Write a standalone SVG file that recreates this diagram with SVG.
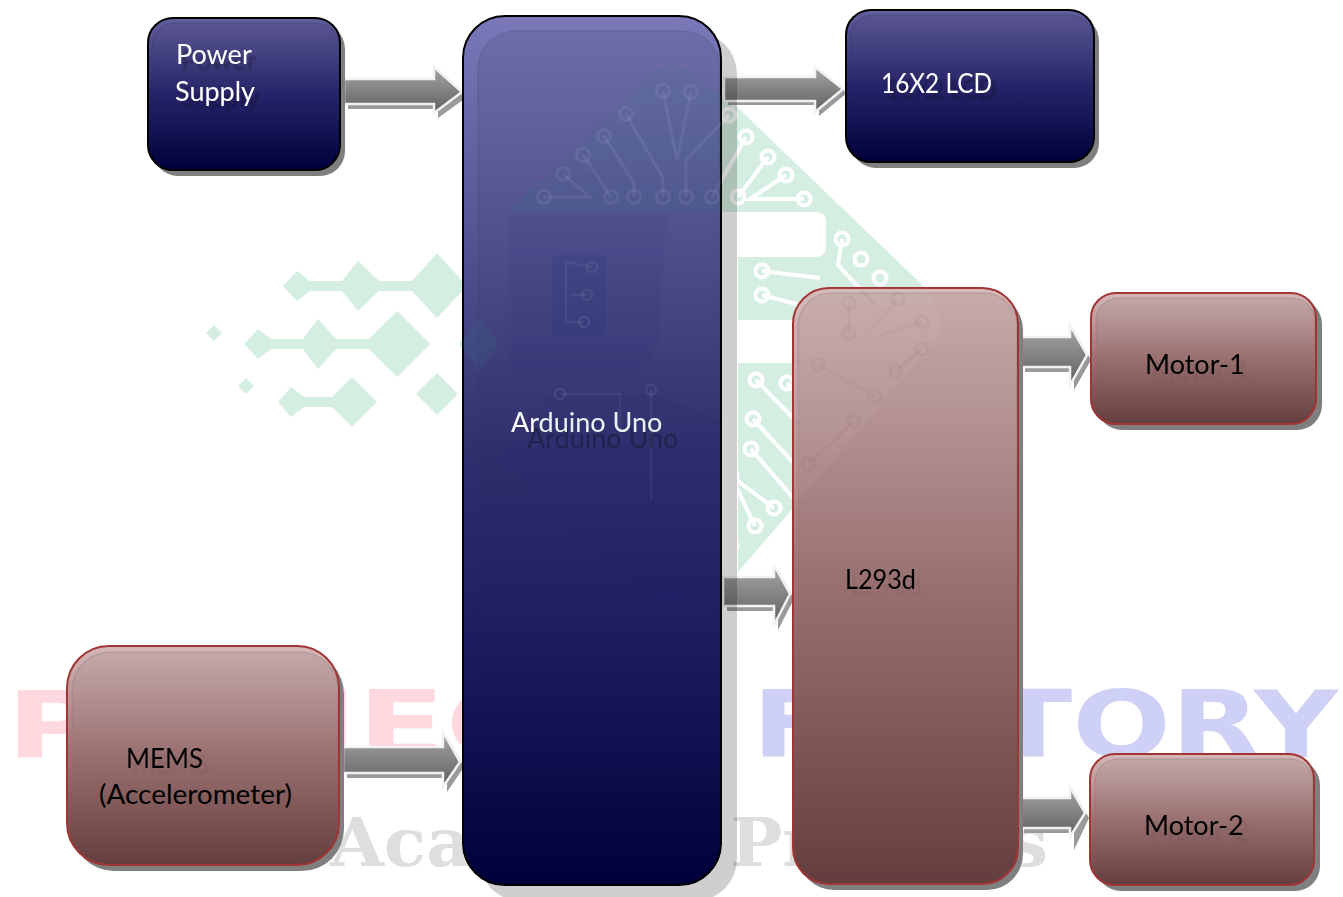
<svg xmlns="http://www.w3.org/2000/svg" xmlns:xlink="http://www.w3.org/1999/xlink" width="1343" height="897" viewBox="0 0 1343 897">
<style>
text{font-family:"Lato","Noto Sans",sans-serif;font-size:27px}
.w{fill:#fff}.k{fill:#000}
.wmm{font-family:"DejaVu Sans",sans-serif;font-weight:bold;font-size:93px}
.wmg{font-family:"DejaVu Serif",serif;font-weight:bold;font-size:68px;fill:#dedede}
.sb{fill:#7f7f7f}
.bluen{fill:url(#gBlue);stroke:#000;stroke-width:2}
.blues{fill:url(#gBlueS);stroke:#000;stroke-width:2}
.redn{fill:url(#gRed);stroke:#a13535;stroke-width:2}
.bev{fill:url(#gBev);stroke:url(#gBevS);stroke-width:1.5}
.ar{fill:url(#gArrow);stroke:#f2f2f2;stroke-width:2.5;stroke-linejoin:miter}
.ars{fill:#9a9a9a}
.dia{fill:#d5eee2}
</style>
<defs>
<linearGradient id="gBlue" x1="0" y1="0" x2="0" y2="1"><stop offset="0" stop-color="#7a78b8"/><stop offset=".5" stop-color="#30306f"/><stop offset=".72" stop-color="#1d1c60"/><stop offset="1" stop-color="#00003b"/></linearGradient>
<linearGradient id="gBlueS" x1="0" y1="0" x2="0" y2="1"><stop offset="0" stop-color="#625f9f"/><stop offset=".5" stop-color="#27256b"/><stop offset="1" stop-color="#00003b"/></linearGradient>
<linearGradient id="gRed" x1="0" y1="0" x2="0" y2="1"><stop offset="0" stop-color="#d6b8b8"/><stop offset=".5" stop-color="#9c7272"/><stop offset="1" stop-color="#643e3e"/></linearGradient>
<linearGradient id="gBev" x1="0" y1="0" x2="0" y2="1"><stop offset="0" stop-color="#000" stop-opacity=".07"/><stop offset=".5" stop-color="#000" stop-opacity=".02"/><stop offset="1" stop-color="#000" stop-opacity="0"/></linearGradient>
<linearGradient id="gBevS" x1="0" y1="0" x2="0" y2="1"><stop offset="0" stop-color="#000" stop-opacity=".1"/><stop offset=".5" stop-color="#000" stop-opacity=".02"/><stop offset="1" stop-color="#000" stop-opacity="0"/></linearGradient>
<linearGradient id="gArrow" x1="0" y1="0" x2="0" y2="1"><stop offset="0" stop-color="#a6a6a6"/><stop offset="1" stop-color="#5f5f5f"/></linearGradient>
<filter id="ts5" x="-10%" y="-30%" width="130%" height="170%"><feDropShadow dx="5" dy="6" stdDeviation=".8" flood-color="#000" flood-opacity=".28"/></filter>
<filter id="tf" x="-10%" y="-30%" width="130%" height="170%"><feDropShadow dx="6" dy="6" stdDeviation="1" flood-color="#000" flood-opacity=".07"/></filter>
<filter id="ts16" x="-10%" y="-30%" width="130%" height="200%"><feDropShadow dx="16" dy="16" stdDeviation=".6" flood-color="#000" flood-opacity=".3"/></filter>
<clipPath id="overA"><rect x="463" y="16" width="258" height="869" rx="42"/></clipPath>
<clipPath id="overL"><rect x="793" y="288" width="225" height="596" rx="36"/></clipPath>
<g id="logoShape">
<path d="M507 212L655 72Q672 56 695 75L738 110V212Z"/>
<path d="M735 105L915 278Q952 312 935 340L800 500L738 572V363H800V320H738V257H815Q826 257 826 245V222Q826 212 815 212H738Z"/>
</g>
<g id="logoTraces">
<path d="M544 197H590L563 174M583 155L611 197M604 136L634 183V197M626 114L663 178V197M663 91L677 160L691 92M686 197V160L729 115M712 197L746 137M738 197L768 157M804 199H750L786 175M842 239L838 265L875 305M762 271L820 278M762 295L800 305M756 380L800 425M787 383L830 430M753 419L800 470M751 449L795 500M731 476L774 508M731 476L755 526M731 500V546"/>
<circle cx="544" cy="197" r="6.5"/><circle cx="611" cy="197" r="6.5"/><circle cx="634" cy="197" r="6.5"/><circle cx="663" cy="197" r="6.5"/><circle cx="686" cy="197" r="6.5"/><circle cx="712" cy="197" r="6.5"/><circle cx="738" cy="197" r="6.5"/><circle cx="804" cy="199" r="6.5"/><circle cx="563" cy="174" r="6.5"/><circle cx="583" cy="155" r="6.5"/><circle cx="604" cy="136" r="6.5"/><circle cx="626" cy="114" r="6.5"/><circle cx="663" cy="91" r="6.5"/><circle cx="691" cy="92" r="6.5"/><circle cx="746" cy="137" r="6.5"/><circle cx="768" cy="157" r="6.5"/><circle cx="786" cy="175" r="6.5"/><circle cx="729" cy="115" r="6.5"/><circle cx="842" cy="239" r="6.5"/><circle cx="861" cy="259" r="6.5"/><circle cx="880" cy="278" r="6.5"/><circle cx="762" cy="271" r="6.5"/><circle cx="762" cy="295" r="6.5"/><circle cx="756" cy="380" r="6.5"/><circle cx="787" cy="383" r="6.5"/><circle cx="753" cy="419" r="6.5"/><circle cx="751" cy="449" r="6.5"/><circle cx="731" cy="476" r="6.5"/><circle cx="774" cy="508" r="6.5"/><circle cx="755" cy="526" r="6.5"/><circle cx="731" cy="546" r="6.5"/>
</g>
</defs>
<rect width="1343" height="897" fill="#fff"/>
<g id="watermark">
<text class="wmm" x="6" y="757" fill="#ffd9dd" textLength="622" lengthAdjust="spacingAndGlyphs">PROJECT</text>
<text class="wmm" x="752" y="757" fill="#cfd0f6" textLength="586" lengthAdjust="spacingAndGlyphs">FACTORY</text>
<text class="wmg" x="330" y="866" textLength="718" lengthAdjust="spacingAndGlyphs">Academic Projects</text>
<use xlink:href="#logoShape" fill="#d5eee2"/>
<use xlink:href="#logoTraces" fill="none" stroke="#fff" stroke-width="4"/>
<g class="dia">
<path d="M283 286L297 271L310 281H342L358 261L379 281H412L437 253L467 286L437 318L412 291H379L358 311L342 291H310L297 301Z"/>
<path d="M244 344L258 329L271 339H303L318 319L336 339H369L397 311L430 344L397 377L369 349H336L318 369L303 349H271L258 359Z"/>
<path d="M278 402L291 387L304 397H332L352 377L377 402L352 427L332 407H304L291 417Z"/>
<path d="M416 394L437 373L458 394L437 415Z"/>
<path d="M459 344L479 317L499 344L479 371Z"/>
<path d="M206 333L214 325L222 333L214 341Z"/>
<path d="M238 386L246 378L254 386L246 394Z"/>
</g>
</g>
<g id="connectors">
<g id="arrow-power-arduino"><path class="ars" d="M348 83H438V72L467 97L438 118V109H348Z"/><path class="ar" d="M344 79H434V67L462 92L434 113V104H344Z"/></g>
<g id="arrow-arduino-lcd"><path class="ars" d="M728 81H819V72L847 93L819 116V105H728Z"/><path class="ar" d="M724 77H815V67L843 89L815 112V101H724Z"/></g>
<g id="arrow-arduino-l293d"><path class="ars" d="M727 582H778V570L794 599L778 630V611H727Z"/><path class="ar" d="M723 577H774V565L790 594L774 625V606H723Z"/></g>
<g id="arrow-mems-arduino"><path class="ars" d="M347 752H447V737L464 767L447 792V778H347Z"/><path class="ar" d="M343 747H443V732L460 762L443 787V773H343Z"/></g>
<g id="arrow-l293d-motor1"><path class="ars" d="M1025 342H1074V330L1091 360L1074 390V372H1025Z"/><path class="ar" d="M1021 337H1070V325L1087 355L1070 385V367H1021Z"/></g>
<g id="arrow-l293d-motor2"><path class="ars" d="M1024 803H1074V792L1089 818L1074 850V833H1024Z"/><path class="ar" d="M1020 798H1070V787L1085 813L1070 837V828H1020Z"/></g>
</g>
<g id="node-power">
<rect class="sb" x="153" y="24" width="192" height="152" rx="25"/>
<rect class="blues" x="148" y="18" width="192" height="152" rx="25"/>
<rect class="bev" x="152" y="23" width="187" height="146" rx="23"/>
<text class="w" filter="url(#ts5)" x="176" y="64">Power</text>
<text class="w" filter="url(#ts5)" x="175" y="101">Supply</text>
</g>
<g id="node-arduino">
<rect fill="#000" fill-opacity=".19" x="479" y="32" width="258" height="869" rx="42"/>
<rect class="bluen" x="463" y="16" width="258" height="869" rx="42"/>
<rect class="bev" x="478" y="31" width="242" height="853" rx="38"/>
<text class="w" filter="url(#ts16)" x="511" y="432">Arduino Uno</text>
</g>
<g id="node-lcd">
<rect class="sb" x="851" y="16" width="248" height="152" rx="25"/>
<rect class="blues" x="846" y="10" width="248" height="152" rx="25"/>
<rect class="bev" x="850" y="15" width="243" height="146" rx="23"/>
<text class="w" filter="url(#ts5)" x="881" y="93" textLength="111" lengthAdjust="spacingAndGlyphs">16X2 LCD</text>
</g>
<g id="node-l293d">
<rect class="sb" x="798" y="294" width="225" height="596" rx="36"/>
<rect class="redn" x="793" y="288" width="225" height="596" rx="36"/>
<rect class="bev" x="798" y="293" width="219" height="590" rx="33"/>
<text class="k" filter="url(#tf)" x="845" y="589" textLength="71" lengthAdjust="spacingAndGlyphs">L293d</text>
</g>
<g id="node-mems">
<rect class="sb" x="72" y="652" width="272" height="219" rx="42"/>
<rect class="redn" x="67" y="646" width="272" height="219" rx="42"/>
<rect class="bev" x="72" y="652" width="266" height="212" rx="38"/>
<text class="k" filter="url(#tf)" x="126" y="768" textLength="77" lengthAdjust="spacingAndGlyphs">MEMS</text>
<text class="k" x="99" y="804" textLength="193" lengthAdjust="spacingAndGlyphs">(Accelerometer)</text>
</g>
<g id="node-motor1">
<rect class="sb" x="1097" y="299" width="225" height="131" rx="25"/>
<rect class="redn" x="1091" y="293" width="225" height="131" rx="25"/>
<rect class="bev" x="1096" y="298" width="219" height="125" rx="23"/>
<text class="k" filter="url(#tf)" x="1145" y="374">Motor-1</text>
</g>
<g id="node-motor2">
<rect class="sb" x="1096" y="760" width="224" height="131" rx="25"/>
<rect class="redn" x="1090" y="754" width="224" height="131" rx="25"/>
<rect class="bev" x="1095" y="759" width="218" height="125" rx="23"/>
<text class="k" filter="url(#tf)" x="1144" y="835">Motor-2</text>
</g>
<g id="watermark-over-arduino" clip-path="url(#overA)">
<use xlink:href="#logoShape" fill="#2f7f86" fill-opacity=".13"/>
<use xlink:href="#logoTraces" fill="none" stroke="#fff" stroke-opacity=".07" stroke-width="3"/>
<path fill="#14296e" fill-opacity=".07" d="M510 212H660Q668 212 666 225L658 340Q650 375 620 375H510Z"/>
<rect x="552" y="255" width="54" height="80" rx="6" fill="#14296e" fill-opacity=".14"/>
<path fill="none" stroke="#fff" stroke-opacity=".06" stroke-width="2.5" d="M592 267L566 262V322H584M587 295H570M560 394H620V430M651 390V500"/>
<g fill="none" stroke="#fff" stroke-opacity=".07" stroke-width="2.5"><circle cx="592" cy="267" r="5"/><circle cx="587" cy="295" r="5"/><circle cx="584" cy="322" r="5"/><circle cx="560" cy="394" r="5"/><circle cx="651" cy="390" r="5"/></g>
<path fill="#14296e" fill-opacity=".07" d="M497 456L648 596Q665 612 682 598L738 572V430L660 395L540 395L540 430Z"/>
<path fill="#2f7f86" fill-opacity=".14" d="M459 344L479 317L499 344L479 371Z"/>
</g>
<g id="watermark-over-l293d" clip-path="url(#overL)">
<use xlink:href="#logoShape" fill="#fff" fill-opacity=".04"/>
<path fill="none" stroke="#6d3f3f" stroke-opacity=".05" stroke-width="3" d="M849 303V333M898 299L870 330M922 322L880 335M922 349L896 371M818 365L875 396M809 464L854 421M756 380L800 425M842 239L838 265L875 305"/>
<g fill="none" stroke="#6d3f3f" stroke-opacity=".06" stroke-width="3"><circle cx="849" cy="303" r="6"/><circle cx="898" cy="299" r="6"/><circle cx="922" cy="322" r="6"/><circle cx="849" cy="333" r="6"/><circle cx="922" cy="349" r="6"/><circle cx="818" cy="365" r="6"/><circle cx="896" cy="371" r="6"/><circle cx="875" cy="396" r="6"/><circle cx="854" cy="421" r="6"/><circle cx="809" cy="464" r="6"/></g>
</g>
</svg>
